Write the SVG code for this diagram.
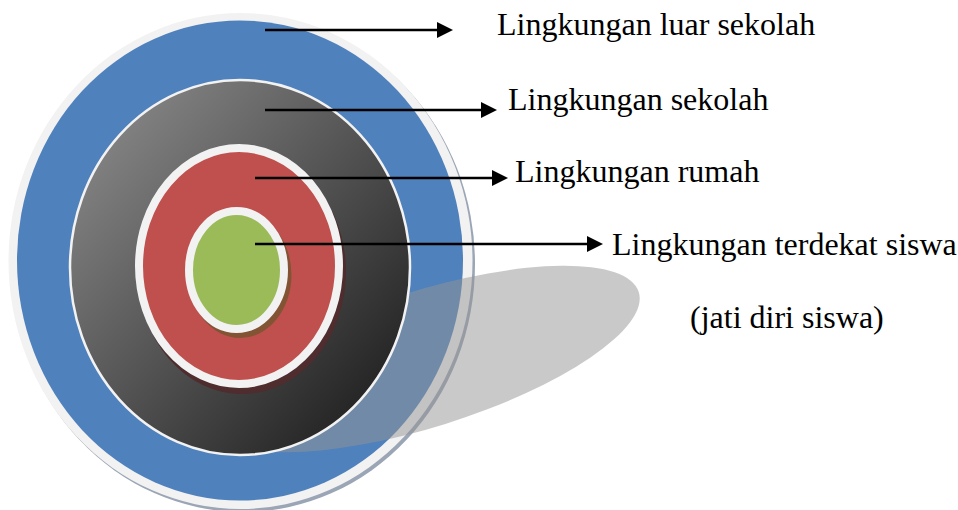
<svg xmlns="http://www.w3.org/2000/svg" width="958" height="510" viewBox="0 0 958 510">
<style>
.lbl{font-family:"Liberation Serif","Times New Roman",serif;font-size:32px;fill:#000}
.ring{fill:none;stroke:#f2f2f2}
.conn{stroke:#000;stroke-width:2.5;fill:none;marker-end:url(#ah)}
</style>
<defs>
<linearGradient id="gGray" x1="0" y1="0" x2="1" y2="1">
<stop offset="0" stop-color="#929292"/>
<stop offset="1" stop-color="#141414"/>
</linearGradient>
<marker id="ah" markerUnits="userSpaceOnUse" markerWidth="16" markerHeight="16" refX="8" refY="8" orient="auto" viewBox="0 0 16 16">
<path d="M0,0 L16,8 L0,16 z" fill="#000"/>
</marker>
</defs>
<rect width="958" height="510" fill="#fff"/>
<g id="node-luar">
<ellipse cx="243" cy="264" rx="232" ry="248" fill="#9aa5b5"/>
<ellipse cx="240.5" cy="261" rx="232" ry="248" fill="#f2f2f2"/>
<ellipse cx="240" cy="260.5" rx="223" ry="240" fill="#4f81bd"/>
<text class="lbl" x="497" y="35">Lingkungan luar sekolah</text>
</g>
<g id="shadow">
<ellipse cx="425" cy="359" rx="224" ry="68" transform="rotate(-17.4 425 359)" fill="#949494" fill-opacity="0.5"/>
</g>
<g id="node-sekolah">
<ellipse cx="240" cy="267.5" rx="170" ry="187.5" fill="url(#gGray)" stroke="#f2f2f2" stroke-width="2.5"/>
<text class="lbl" x="508" y="110">Lingkungan sekolah</text>
</g>
<g id="node-rumah">
<ellipse cx="242" cy="272" rx="104" ry="122" fill="#4f2c2d"/>
<ellipse cx="239" cy="266" rx="100" ry="118" fill="#c0504d" class="ring" stroke-width="8" style="fill:#c0504d"/>
<text class="lbl" x="515" y="182">Lingkungan rumah</text>
</g>
<g id="node-terdekat">
<ellipse cx="240" cy="275" rx="51.5" ry="63" fill="#825434"/>
<ellipse cx="236.5" cy="270" rx="47.5" ry="59" class="ring" stroke-width="8" style="fill:#9bbb59"/>
<text class="lbl" x="612" y="255">Lingkungan terdekat siswa</text>
<text class="lbl" x="690" y="328">(jati diri siswa)</text>
</g>
<g id="connectors">
<line class="conn" x1="265" y1="30" x2="445" y2="30"/>
<line class="conn" x1="265" y1="110" x2="489" y2="110"/>
<line class="conn" x1="255" y1="178" x2="500" y2="178"/>
<line class="conn" x1="255" y1="244" x2="595" y2="244"/>
</g>
</svg>
